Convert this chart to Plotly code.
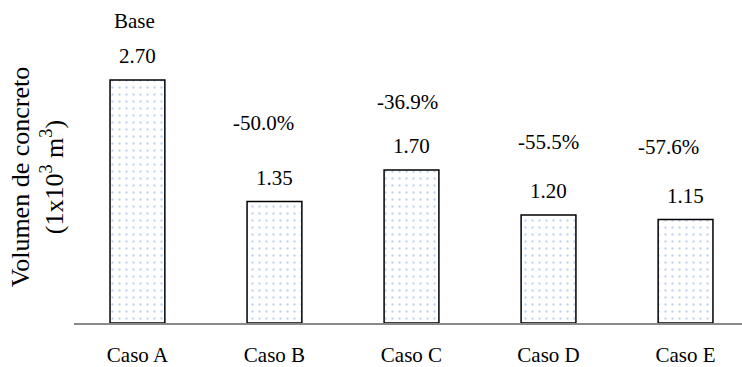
import plotly.graph_objects as go

cases = ["Caso A", "Caso B", "Caso C", "Caso D", "Caso E"]
volume = [2.70, 1.35, 1.70, 1.20, 1.15]  # 1x10^3 m3
change = ["Base", "-50.0%", "-36.9%", "-55.5%", "-57.6%"]

FONT = "Liberation Serif"

# placement (pixels) of the change labels, relative to the value labels
pct_dx = [-3, -11, -4, 0, -17]
pct_dy = [35, 55, 44, 49, 49]

fig = go.Figure()

fig.add_trace(go.Bar(
    x=cases, y=volume,
    width=0.4,
    marker=dict(
        color="white",
        line=dict(color="black", width=1.5),
        pattern=dict(shape=".", fgcolor="#8aaee0", bgcolor="white",
                     size=7, solidity=0.1),
    ),
    showlegend=False,
))

annotations = []
for i, (c, v) in enumerate(zip(cases, volume)):
    annotations.append(dict(
        x=c, y=v, xref="x", yref="y", text=f"{v:.2f}",
        showarrow=False, yanchor="middle", yshift=24,
        font=dict(family=FONT, size=21, color="black"),
    ))
    annotations.append(dict(
        x=c, y=v, xref="x", yref="y", text=change[i],
        showarrow=False, yanchor="middle", yshift=24 + pct_dy[i],
        xshift=pct_dx[i],
        font=dict(family=FONT, size=21, color="black"),
    ))

# y-axis title
annotations.append(dict(
    x=-0.055, y=0.452, xref="paper", yref="paper",
    text="Volumen de concreto<br>(1x10<sup>3</sup> m<sup>3</sup>)",
    textangle=-90, showarrow=False, xanchor="center", yanchor="middle",
    font=dict(family=FONT, size=26, color="black"),
))

fig.update_layout(
    width=742, height=367,
    margin=dict(l=74, r=0, t=0, b=44),
    plot_bgcolor="white", paper_bgcolor="white",
    annotations=annotations,
    font=dict(family=FONT, size=21, color="black"),
)

fig.update_xaxes(
    range=[-0.463, 4.412],
    showline=True, linecolor="#8a8a8a", linewidth=2,
    showgrid=False, ticks="", ticklabelstandoff=12,
    tickfont=dict(family=FONT, size=21, color="black"),
)
fig.update_yaxes(
    range=[0, 3.589], showgrid=False, zeroline=False,
    showticklabels=False, showline=False,
)

fig.write_html("out.html", config={"displayModeBar": False},
               post_script="document.body.style.margin='0';")
